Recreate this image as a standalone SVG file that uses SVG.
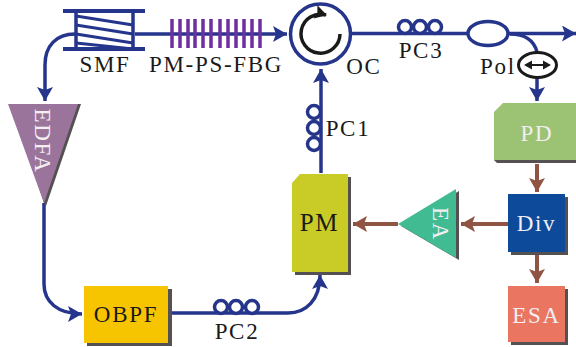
<svg xmlns="http://www.w3.org/2000/svg" width="576" height="347" viewBox="0 0 576 347">
<style>
text{font-family:"Liberation Serif","Times New Roman",serif;font-size:23px;letter-spacing:1.7px;text-anchor:middle}
.k{fill:#1a1a1a}.w{fill:#f2eef2}
.b{fill:none;stroke:#26358c;stroke-width:3.500}
.br{fill:none;stroke:#8f5443;stroke-width:4}
.pc{fill:#fff;stroke:#26358c;stroke-width:3.500}
.s{fill:#555052}
</style>
<defs>
<marker id="ab" markerUnits="userSpaceOnUse" markerWidth="15" markerHeight="16" refX="14" refY="8" orient="auto"><path d="M0 0L14 8L0 16L3 8Z" fill="#26358c"/></marker>
<marker id="ar" markerUnits="userSpaceOnUse" markerWidth="15" markerHeight="16" refX="14" refY="8" orient="auto"><path d="M0 0L14 8L0 16L3 8Z" fill="#8f5443"/></marker>
<marker id="ak" markerUnits="userSpaceOnUse" markerWidth="13" markerHeight="14" refX="11" refY="7" orient="auto"><path d="M0 0L12 7L0 14L2 7Z" fill="#1a1a1a"/></marker>
</defs>
<g id="connectors">
<path class="b" d="M135 34H287" marker-end="url(#ab)"/>
<path class="b" d="M75 34C56 34 45 46 45 65V101" marker-end="url(#ab)"/>
<path class="b" d="M44 203V284C44 302 58 314 82 314" marker-end="url(#ab)"/>
<path class="b" d="M170 313H288C306 313 320 300 320 275" marker-end="url(#ab)"/>
<path class="b" d="M321 173V69" marker-end="url(#ab)"/>
<path class="b" d="M351 33.500H576" marker-end="url(#ab)"/>
<path class="b" d="M510 34C524 34 534 40 537 52"/>
<path class="b" d="M537 78V101" marker-end="url(#ab)"/>
<path class="br" d="M537 164V192" marker-end="url(#ar)"/>
<path class="br" d="M537 254V283" marker-end="url(#ar)"/>
<path class="br" d="M508 224H461" marker-end="url(#ar)"/>
<path class="br" d="M398 224H353" marker-end="url(#ar)"/>
</g>
<g id="smf">
<path d="M63 11H145M63 49H145" stroke="#26358c" stroke-width="4" fill="none"/>
<path d="M76 16L133 25M76 25L133 34M76 34L133 43M76 43L133 49" stroke="#26358c" stroke-width="3" fill="none"/>
<path d="M76 11V49M133 11V49" stroke="#26358c" stroke-width="3.500" fill="none"/>
<text x="105" y="72" class="k">SMF</text>
</g>
<g id="fbg">
<path d="M172 19V48M180 19V48M188 19V48M195 19V48M203 19V48M211 19V48M220 19V48M228 19V48M236 19V48M244 19V48M252 19V48M260 19V48" stroke="#6e2fa0" stroke-width="3.500" fill="none"/>
<text x="216" y="72" class="k">PM-PS-FBG</text>
</g>
<g id="oc">
<circle cx="320.500" cy="34" r="30" fill="#fff" stroke="#26358c" stroke-width="3.500"/>
<path d="M340 34A19.500 19.500 0 1 1 326 15" fill="none" stroke="#1a1a1a" stroke-width="3.500" marker-end="url(#ak)"/>
<text x="364" y="74" class="k">OC</text>
</g>
<g id="pc3">
<circle class="pc" cx="405" cy="27" r="6.500"/><circle class="pc" cx="420" cy="27" r="6.500"/><circle class="pc" cx="435" cy="27" r="6.500"/>
<text x="421" y="58" class="k">PC3</text>
</g>
<g id="coupler"><ellipse cx="488" cy="33.500" rx="20" ry="12" fill="#fff" stroke="#26358c" stroke-width="3.500"/></g>
<g id="pol">
<ellipse cx="537.500" cy="65" rx="19" ry="12.500" fill="#fff" stroke="#1a1a1a" stroke-width="3"/>
<path d="M526 65H549" stroke="#1a1a1a" stroke-width="2"/>
<path d="M532 60.500L524 65L532 69.500Z M543 60.500L551 65L543 69.500Z" fill="#1a1a1a"/>
<text x="498" y="74" class="k">Pol</text>
</g>
<g id="pd">
<path class="s" d="M501 106H576V163H497L494 160Z"/>
<path d="M503 103H576V160H494V112Z" fill="#9cc274"/>
<text x="537" y="141" class="w">PD</text>
</g>
<g id="pc1">
<circle class="pc" cx="314" cy="112" r="6.500"/><circle class="pc" cx="314" cy="128" r="6.500"/><circle class="pc" cx="314" cy="144" r="6.500"/>
<text x="348" y="136" class="k">PC1</text>
</g>
<g id="pm">
<path class="s" d="M300 177H351V275H295V270Z"/>
<path d="M300 174H348V272H292V183Z" fill="#c9cc26"/>
<text x="319.500" y="231" class="k" style="font-size:25px">PM</text>
</g>
<g id="ea">
<path class="s" d="M401 226L459 191V260Z"/>
<path d="M398 224L456 189V258Z" fill="#41bb91"/>
<text transform="translate(433 224) rotate(90)" class="w">EA</text>
</g>
<g id="div">
<rect class="s" x="511" y="197" width="57" height="58"/>
<rect x="508" y="194" width="57" height="58" fill="#0d4a99"/>
<text x="536.500" y="231" class="w">Div</text>
</g>
<g id="esa">
<rect class="s" x="511" y="289" width="57" height="56"/>
<rect x="508" y="286" width="57" height="56" fill="#ea7560"/>
<text x="536.500" y="323" class="w">ESA</text>
</g>
<g id="edfa">
<path class="s" d="M12 104H81L46 206L44 203Z"/>
<path d="M8 104H78L44 203Z" fill="#9b749b"/>
<text transform="translate(35 141) rotate(90)" class="w">EDFA</text>
</g>
<g id="obpf">
<rect class="s" x="87" y="289" width="85" height="57"/>
<rect x="84" y="286" width="84" height="57" fill="#f7c500"/>
<text x="126" y="322" class="k">OBPF</text>
</g>
<g id="pc2">
<circle class="pc" cx="221" cy="307" r="6.500"/><circle class="pc" cx="236" cy="307" r="6.500"/><circle class="pc" cx="252" cy="307" r="6.500"/>
<text x="237" y="339" class="k">PC2</text>
</g>
</svg>
